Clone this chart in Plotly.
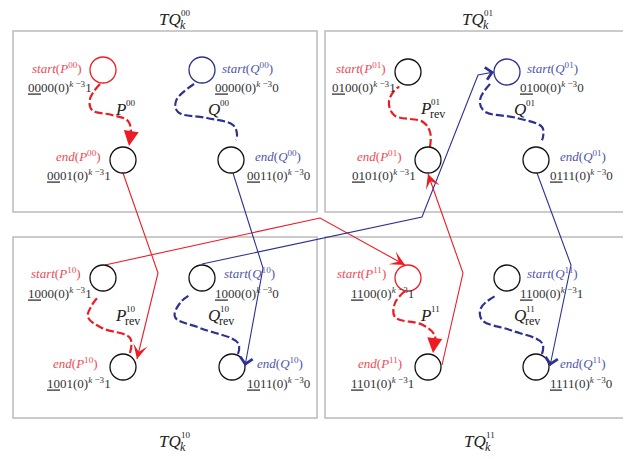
import math
import plotly.graph_objects as go

RED = "#ED1C24"
RED_TXT = "#EE4B55"
BLUE = "#2E3192"
BLUE_TXT = "#5155A6"
BLACK = "#111111"
GRAY = "#BBBBBB"
FONT = "Liberation Serif"

# ---- boxes (sub-cubes) ----
box_names = ["00", "01", "10", "11"]
box_x0 = [13, 325, 13, 325]
box_x1 = [317, 628, 317, 628]
box_y0 = [31, 31, 237, 237]
box_y1 = [212, 212, 418, 418]
title_x = [183, 486, 183, 488]
title_y = [19, 19, 441, 441]

# ---- nodes ----
node_x = [103, 123, 202, 231, 408, 428, 507, 536, 103, 123, 202, 232, 408, 428, 507, 536]
node_y = [70, 160, 70, 160, 72, 160, 72, 160, 278, 367, 278, 367, 278, 367, 278, 367]
node_edge = ["r", "k", "b", "k", "k", "k", "b", "k", "k", "k", "k", "k", "r", "k", "k", "k"]

# ---- node names ----
name_word = ["start", "end", "start", "end"] * 4
name_letter = ["P", "P", "Q", "Q"] * 4
name_idx = ["00"] * 4 + ["01"] * 4 + ["10"] * 4 + ["11"] * 4
name_x = [84, 103, 220, 253, 388, 404, 525, 558, 83, 100, 222, 255, 388, 404, 525, 558]
name_y = [68, 156, 68, 156, 68, 156, 68, 156, 273, 363, 273, 363, 273, 363, 273, 363]
name_anchor = ["right", "right", "left", "left"] * 4

# ---- node codes ----
code_bits = ["0000", "0001", "0000", "0011", "0100", "0101", "0100", "0111",
             "1000", "1001", "1000", "1011", "1100", "1101", "1100", "1111"]
code_tail = ["1", "1", "0", "0", "1", "1", "0", "0", "1", "1", "0", "0", "1", "1", "1", "0"]
code_x = [26, 45, 213, 245, 330, 350, 518, 548, 26, 45, 213, 245, 349, 349, 518, 548]
code_y = [87, 175, 87, 175, 87, 175, 87, 175, 293, 383, 293, 383, 293, 383, 293, 383]

# ---- path labels ----
path_letter = ["P", "Q", "P", "Q", "P", "Q", "P", "Q"]
path_sup = ["00", "00", "01", "01", "10", "10", "11", "11"]
path_sub = ["", "", "rev", "", "rev", "rev", "", "rev"]
path_x = [128, 222, 433, 528, 128, 222, 433, 528]
path_y = [109, 109, 108, 109, 315, 315, 315, 315]

# ---- dashed intra-cube paths (waypoints, last = arrow tip) ----
dash_color = ["r", "b", "r", "b", "r", "b", "r", "b"]
dash_head = [2, 4, 3, 4, 3, 4, 2, 4]
dash_px = [
    [100, 90, 92, 112, 128, 131, 129],
    [194, 176, 178, 207, 233, 237, 235],
    [430, 430, 423, 394, 389, 397, 405],
    [490, 480, 484, 517, 542, 543, 540],
    [130, 130, 102, 88, 92, 102],
    [238, 238, 200, 175, 180, 195],
    [405, 395, 395, 423, 435, 433],
    [542, 542, 510, 482, 481, 500],
]
dash_py = [
    [84, 99, 110, 115, 121, 133, 146],
    [84, 101, 112, 118, 125, 134, 146],
    [147, 132, 122, 115, 101, 88, 85],
    [84, 100, 111, 118, 127, 137, 146],
    [353, 338, 328, 317, 305, 292],
    [354, 343, 328, 317, 303, 291],
    [291, 303, 317, 325, 336, 353],
    [354, 343, 330, 320, 308, 292],
]

# ---- solid inter-cube edges ----
edge_color = ["r", "r", "r", "b", "b", "b"]
edge_head = [3, 3, 3, 4, 4, 4]
edge_px = [
    [123, 158, 137],
    [105, 320, 405],
    [442, 463, 428],
    [233, 263, 245],
    [202, 422, 478, 494],
    [537, 571, 550],
]
edge_py = [
    [173, 273, 359],
    [265, 218, 265],
    [365, 273, 174],
    [173, 268, 366],
    [264, 217, 75, 72],
    [173, 265, 366],
]

CMAP = {"r": RED, "b": BLUE, "k": BLACK}
TMAP = {"r": RED_TXT, "b": BLUE_TXT}

# the page body has an 8px margin: shift the axes so data units equal page pixels
OFF = 8
W, H = 631, 459

fig = go.Figure()
annotations = []
shapes = []

for i in range(4):
    shapes.append(dict(type="rect", xref="x", yref="y", x0=box_x0[i], x1=box_x1[i],
                       y0=box_y0[i], y1=box_y1[i], line=dict(color=GRAY, width=1.5),
                       layer="below"))


def stacked(x, y, main, sup, sub, size, color):
    annotations.append(dict(x=x, y=y, xref="x", yref="y", text="<i>%s</i>" % main,
                            showarrow=False, xanchor="right", yanchor="middle",
                            font=dict(family=FONT, size=size, color=color)))
    if sup:
        annotations.append(dict(x=x - 4, y=y - 0.38 * size, xref="x", yref="y", text=sup,
                                showarrow=False, xanchor="left", yanchor="middle",
                                font=dict(family=FONT, size=round(size * 0.55), color=color)))
    if sub:
        annotations.append(dict(x=x - 5, y=y + 0.33 * size, xref="x", yref="y", text=sub,
                                showarrow=False, xanchor="left", yanchor="middle",
                                font=dict(family=FONT, size=round(size * 0.68), color=color)))


for i in range(4):
    stacked(title_x[i], title_y[i], "TQ", box_names[i], "<i>k</i>", 17, "#222222")

for i in range(len(path_letter)):
    stacked(path_x[i], path_y[i], path_letter[i], path_sup[i], path_sub[i], 17, "#222222")


def arrow(xs, ys, color, head, width, size, L=6):
    tx, ty = xs[-1], ys[-1]
    px, py = xs[-2], ys[-2]
    d = math.hypot(tx - px, ty - py)
    ax = tx - (tx - px) / d * L
    ay = ty - (ty - py) / d * L
    annotations.append(dict(x=tx, y=ty, ax=ax, ay=ay, xref="x", yref="y", axref="x", ayref="y",
                            text="", showarrow=True, arrowhead=head, arrowsize=size,
                            arrowwidth=width, arrowcolor=color, standoff=0, startstandoff=0))
    return ax, ay


for i in range(len(edge_px)):
    c = CMAP[edge_color[i]]
    fig.add_trace(go.Scatter(x=edge_px[i], y=edge_py[i], mode="lines",
                             line=dict(color=c, width=1.1), hoverinfo="skip"))
    arrow(edge_px[i], edge_py[i], c, edge_head[i], 1.1, 2.2)

for i in range(len(dash_px)):
    c = CMAP[dash_color[i]]
    ax, ay = arrow(dash_px[i], dash_py[i], c, dash_head[i], 2, 1.5)
    fig.add_trace(go.Scatter(x=dash_px[i][:-1] + [ax], y=dash_py[i][:-1] + [ay], mode="lines",
                             line=dict(color=c, width=2.2, dash="8px,3px", shape="spline",
                                       smoothing=1.1),
                             hoverinfo="skip"))

fig.add_trace(go.Scatter(x=node_x, y=node_y, mode="markers", hoverinfo="skip",
                         marker=dict(size=26, color="white",
                                     line=dict(width=1.3, color=[CMAP[e] for e in node_edge]))))

for i in range(len(name_word)):
    col = TMAP["r"] if name_letter[i] == "P" else TMAP["b"]
    txt = "<i>%s</i>(<i>%s</i><sup>%s</sup>)" % (name_word[i], name_letter[i], name_idx[i])
    annotations.append(dict(x=name_x[i], y=name_y[i], xref="x", yref="y", text=txt,
                            showarrow=False, xanchor=name_anchor[i], yanchor="middle",
                            font=dict(family=FONT, size=13, color=col)))

for i in range(len(code_bits)):
    b = code_bits[i]
    txt = "<u>%s</u>%s(0)<sup><i>k</i> \u22123</sup>%s" % (b[:2], b[2:], code_tail[i])
    annotations.append(dict(x=code_x[i], y=code_y[i], xref="x", yref="y", text=txt,
                            showarrow=False, xanchor="left", yanchor="middle",
                            font=dict(family=FONT, size=13, color="#333333")))

fig.update_layout(
    width=W, height=H, margin=dict(l=0, r=0, t=0, b=0),
    paper_bgcolor="white", plot_bgcolor="white", showlegend=False,
    xaxis=dict(range=[OFF, W + OFF], visible=False, fixedrange=True),
    yaxis=dict(range=[H + OFF, OFF], visible=False, fixedrange=True),
    shapes=shapes, annotations=annotations,
)

fig.write_html("out.html", config={"displayModeBar": False})
